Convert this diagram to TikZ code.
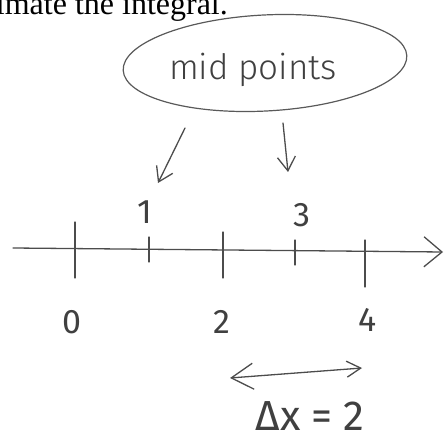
\documentclass[tikz,border=0pt]{standalone}
\usepackage{fontspec}
\newfontfamily\handfont{Fira Sans Light}
\newfontfamily\numfont{Fira Sans}
\newfontfamily\printfont{Liberation Serif}
\usetikzlibrary{arrows.meta,positioning}

\tikzset{
  pencil/.style={draw=black!70, line width=1.3pt, line cap=round, line join=round},
  hand/.style={text=black!75, inner sep=0pt, font=\numfont\fontsize{34}{34}\selectfont},
  barb/.style={-{Straight Barb[length=14pt,width=18pt]}},
}

\begin{document}
\begin{tikzpicture}[x=1pt,y=-1pt]
  \useasboundingbox (0,0) rectangle (445,441);

  % Page text, cut off at the top
  \node[anchor=base east, inner sep=0pt, font=\printfont\fontsize{32}{32}\selectfont] (head) at (228,15) {estimate the integral.};

  % Bubble
  \coordinate (bubble) at (265,63);
  \node[hand, font=\handfont\fontsize{35}{35}\selectfont] (mid) at (253,70) {mid points};
  \draw[pencil, draw=black!65, line width=1.2pt, rotate around={3:(bubble)}] (bubble) ellipse [x radius=142, y radius=48];

  % Arrows down to the midpoints
  \coordinate (tailA) at (185,128);
  \coordinate (headA) at (158,183);
  \coordinate (tailB) at (283,123);
  \coordinate (headB) at (288,172);
  \draw[pencil, barb] (tailA) -- (headA);
  \draw[pencil, barb] (tailB) -- (headB);

  % Number line
  \coordinate (start) at (13,248);
  \coordinate (end) at (443,252);
  \draw[pencil, -{Straight Barb[length=18pt,width=30pt]}] (start) -- (end);

  \foreach \name/\x/\ya/\yb in {t0/75/222/278, t1/149/237/262, t2/223/232/278, t3/295/240/265, t4/365/240/287} {
    \coordinate (\name top) at (\x,\ya);
    \coordinate (\name bot) at (\x,\yb);
    \draw[pencil] (\name top) -- (\name bot);
  }

  % Labels
  \node[hand] (lab1) at (145,212) {1};
  \node[hand] (lab3) at (302,215) {3};
  \node[hand] (lab0) at (72,322) {0};
  \node[hand] (lab2) at (222,322) {2};
  \node[hand] (lab4) at (368,320) {4};

  % Width of one subinterval
  \coordinate (dxL) at (230,378);
  \coordinate (dxR) at (362,368);
  \draw[pencil, {Straight Barb[length=22pt,width=26pt]}-{Straight Barb[length=14pt,width=16pt]}] (dxL) -- (dxR);
  \node[hand, font=\numfont\fontsize{42}{42}\selectfont] (dx) at (310,416) {Δx = 2};
\end{tikzpicture}
\end{document}
